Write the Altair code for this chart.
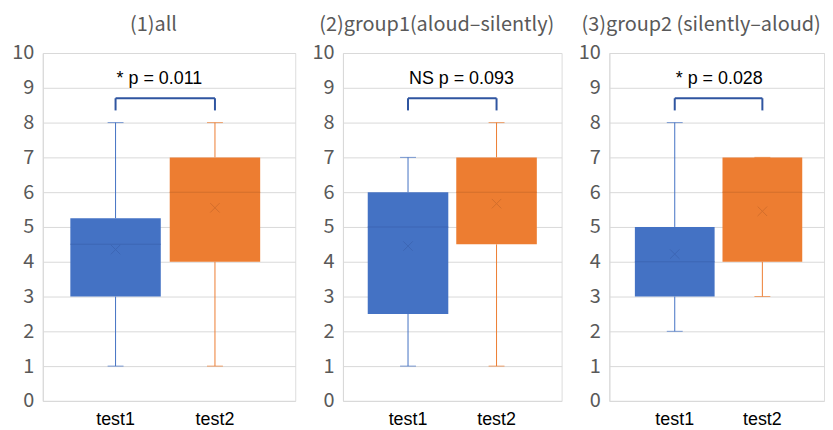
import altair as alt
import pandas as pd

titles = ["(1)all", "(2)group1(aloud–silently)", "(3)group2 (silently–aloud)"]
tests = ["test1", "test2"]
mins = [[1, 1], [1, 1], [2, 3]]
q1s = [[3, 4], [2.5, 4.5], [3, 4]]
medians = [[4.5, 6], [5, 6], [4, 6]]
q3s = [[5.25, 7], [6, 7], [5, 7]]
maxs = [[8, 8], [7, 8], [8, 7]]
means = [[4.35, 5.55], [4.45, 5.67], [4.22, 5.45]]
p_labels = ["* p = 0.011", "NS p = 0.093", "* p = 0.028"]
y_ticks = [0, 1, 2, 3, 4, 5, 6, 7, 8, 9, 10]
bracket_top = 8.7
bracket_bottom = 8.35
label_y = 9.25

widths = [254, 220, 216]
pad_outer = [0.315, 0.28, 0.27]
aligns = [0.44, 0.5, 0.54]

FILL = ["#4472C4", "#ED7D31"]
DARK = ["#3A62AE", "#C9692A"]
NARROW = "Liberation Sans, Arial, sans-serif"
KFONT = "Noto Sans CJK KR, Noto Sans, sans-serif"
XMARK = "M-1,-1L1,1M-1,1L1,-1"


def panel(i):
    df = pd.DataFrame({
        "test": tests,
        "min": mins[i], "q1": q1s[i], "median": medians[i],
        "q3": q3s[i], "max": maxs[i], "mean": means[i],
    })
    step = widths[i] / (2 - 0.09 + 2 * pad_outer[i])
    box_w = step * 0.91
    xs = alt.Scale(domain=tests, paddingInner=0.09, paddingOuter=pad_outer[i], align=aligns[i])
    xax = alt.Axis(title=None, labelAngle=0, ticks=False, domain=False, grid=False,
                   labelFont=NARROW, labelFontSize=18, labelColor="black", labelPadding=10)
    ys = alt.Scale(domain=[0, 10], nice=False, zero=True)
    yax = alt.Axis(title=None, values=y_ticks, grid=True, gridColor="#D9D9D9",
                   domain=True, domainColor="#D9D9D9", ticks=False, labelOverlap=False,
                   labelFont=KFONT, labelFontSize=20, labelColor="#595959", labelPadding=9)

    def X(f):
        return alt.X(f, scale=xs, sort=tests, axis=xax)

    def Y(f):
        return alt.Y(f, scale=ys, axis=yax)

    col = alt.Color("test:N", scale=alt.Scale(domain=tests, range=FILL), legend=None)
    dcol = alt.Color("test:N", scale=alt.Scale(domain=tests, range=DARK), legend=None)
    base = alt.Chart(df)

    box = base.mark_bar(opacity=1).encode(x=X("test:N"), y=Y("q1:Q"), y2="q3:Q", color=col)
    wl = base.mark_rule(strokeWidth=1).encode(x=X("test:N"), y=Y("min:Q"), y2="q1:Q", color=col)
    wh = base.mark_rule(strokeWidth=1).encode(x=X("test:N"), y=Y("q3:Q"), y2="max:Q", color=col)
    cl = base.mark_tick(size=16, thickness=1).encode(x=X("test:N"), y=Y("min:Q"), color=col)
    ch = base.mark_tick(size=16, thickness=1).encode(x=X("test:N"), y=Y("max:Q"), color=col)
    med = base.mark_tick(size=box_w, thickness=1).encode(x=X("test:N"), y=Y("median:Q"), color=dcol)
    mean = base.mark_point(shape=XMARK, size=90, filled=False, strokeWidth=1).encode(
        x=X("test:N"), y=Y("mean:Q"), color=dcol)

    bdf = pd.DataFrame({"test": [tests[0]], "b": [tests[1]], "top": [bracket_top]})
    hbar = alt.Chart(bdf).mark_rule(color="#2F55A0", strokeWidth=2).encode(
        x=X("test:N"), x2="b:N", y=Y("top:Q"))
    ldf = pd.DataFrame({"test": tests, "lo": [bracket_bottom] * 2, "hi": [bracket_top] * 2})
    legs = alt.Chart(ldf).mark_rule(color="#2F55A0", strokeWidth=2).encode(
        x=X("test:N"), y=Y("lo:Q"), y2="hi:Q")
    tdf = pd.DataFrame({"test": [tests[0]], "y": [label_y], "label": [p_labels[i]]})
    txt = alt.Chart(tdf).mark_text(align="left", baseline="middle", font=NARROW, fontSize=18,
                                   color="black", dx=1).encode(
        x=X("test:N"), y=Y("y:Q"), text="label:N")

    return alt.layer(box, wl, wh, cl, ch, med, mean, hbar, legs, txt).resolve_scale(
        color="independent").properties(
        width=widths[i], height=350,
        title=alt.Title(titles[i], font=KFONT, fontSize=20, color="#595959", fontWeight="normal",
                        anchor="middle", frame="bounds", offset=8))


chart = alt.hconcat(*[panel(i) for i in range(3)], spacing=15).configure_view(stroke=None).configure(
    background="white", padding={"left": 3, "top": 5, "right": 0, "bottom": 0})

chart.save("out.html", embed_options={"renderer": "svg", "actions": False})
